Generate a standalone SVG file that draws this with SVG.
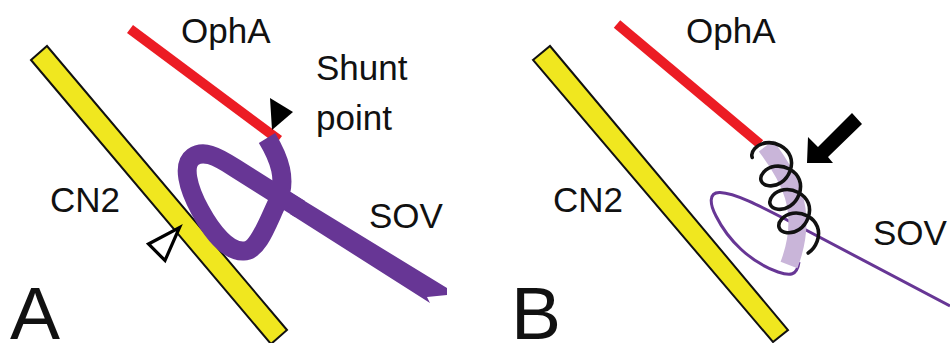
<svg xmlns="http://www.w3.org/2000/svg" width="950" height="343" viewBox="0 0 950 343">
  <style>
    .lbl { font-family: "Liberation Sans", "Open Sans", Arial, sans-serif; font-size: 35px; fill: #111; }
    .panel { font-family: "Liberation Sans", Arial, sans-serif; font-size: 75px; fill: #111; }
    .nerve { fill: #f0e71f; stroke: #111; stroke-width: 2; stroke-linejoin: miter; }
    .artery { fill: none; stroke: #ec1c24; stroke-width: 10; stroke-linecap: butt; }
    .vein { fill: none; stroke: #673695; stroke-linecap: butt; stroke-linejoin: round; }
    .vein-fill { fill: #673695; }
    .sheath { fill: none; stroke: #c9b5d9; stroke-width: 18; stroke-linecap: butt; }
    .coil { fill: none; stroke: #111; stroke-width: 3.6; stroke-linecap: round; stroke-linejoin: round; }
  </style>
  <rect width="950" height="343" fill="#fff"/>

  <!-- Panel A: before treatment -->
  <g id="cn2-a">
    <polygon class="nerve" points="31,60 47,46 287,330 271,344"/>
    <text class="lbl" x="50" y="212">CN2</text>
  </g>
  <g id="opha-a">
    <line class="artery" x1="130" y1="29" x2="279" y2="140"/>
    <text class="lbl" x="181" y="43">OphA</text>
  </g>
  <g id="sov-a">
    <path class="vein" stroke-width="19" d="M267,138 C279,158 288,180 277,203 C267,224 258,251 244,251 C228,252 212,232 200,210 C188,188 182,165 193,157 C203,150 215,155 235,168 L300,209"/>
    <polygon class="vein-fill" points="290,192 447,288 447,295 427,297 430,303 290,214"/>
    <text class="lbl" x="369" y="228">SOV</text>
  </g>
  <g id="shunt-point">
    <polygon fill="#000" points="270,98 293,112 272,130"/>
    <text class="lbl" x="316" y="80">Shunt</text>
    <text class="lbl" x="316" y="130">point</text>
  </g>
  <g id="cn2-contact">
    <polygon fill="#fff" stroke="#000" stroke-width="3.2" stroke-linejoin="miter" points="148.5,244 179.5,227.5 165,260.5"/>
  </g>
  <g id="label-a">
    <text class="panel" x="10" y="339">A</text>
  </g>

  <!-- Panel B: after coil embolisation -->
  <g id="cn2-b">
    <polygon class="nerve" points="533,60 550,46 788,330 773,342"/>
    <text class="lbl" x="553" y="212">CN2</text>
  </g>
  <g id="opha-b">
    <line class="artery" x1="617" y1="24" x2="760" y2="144"/>
    <text class="lbl" x="686" y="43">OphA</text>
  </g>
  <g id="sov-b">
    <path class="vein" stroke-width="3" d="M950,306 L787,220 C760,206 735,193 720,192.5 C708,192 710,205 716,216 C728,240 750,262 778,272 C790,276 797,276 799,262"/>
    <text class="lbl" x="873" y="245">SOV</text>
  </g>
  <g id="occluded-segment">
    <path class="sheath" d="M766,146 C788,175 810,210 789,265"/>
  </g>
  <g id="coil">
    <!-- projected helix: x = 4t - 15 sin t, y = 18 cos t, t = 0 .. 7.5π -->
    <path class="coil" transform="translate(769,151) rotate(69)" d="M0,18 C-5.76,18 -10.811,9.425 -8.717,0 C-6.623,-9.425 2.618,-18 12.566,-18 C22.514,-18 31.756,-9.425 33.85,0 C35.944,9.425 30.893,18 25.133,18 C19.373,18 14.322,9.425 16.416,0 C18.51,-9.425 27.751,-18 37.699,-18 C47.647,-18 56.889,-9.425 58.983,0 C61.077,9.425 56.026,18 50.266,18 C44.506,18 39.455,9.425 41.549,0 C43.643,-9.425 52.884,-18 62.832,-18 C72.78,-18 82.022,-9.425 84.116,0 C86.21,9.425 81.159,18 75.399,18 C69.639,18 64.588,9.425 66.682,0 C68.776,-9.425 78.017,-18 87.965,-18 C97.913,-18 107.155,-9.425 109.249,0"/>
  </g>
  <g id="coil-pointer">
    <polygon fill="#000" points="807,163 808,137 818,147 852,113 862,124 828,157 833,163"/>
  </g>
  <g id="label-b">
    <text class="panel" x="511" y="339">B</text>
  </g>
</svg>
